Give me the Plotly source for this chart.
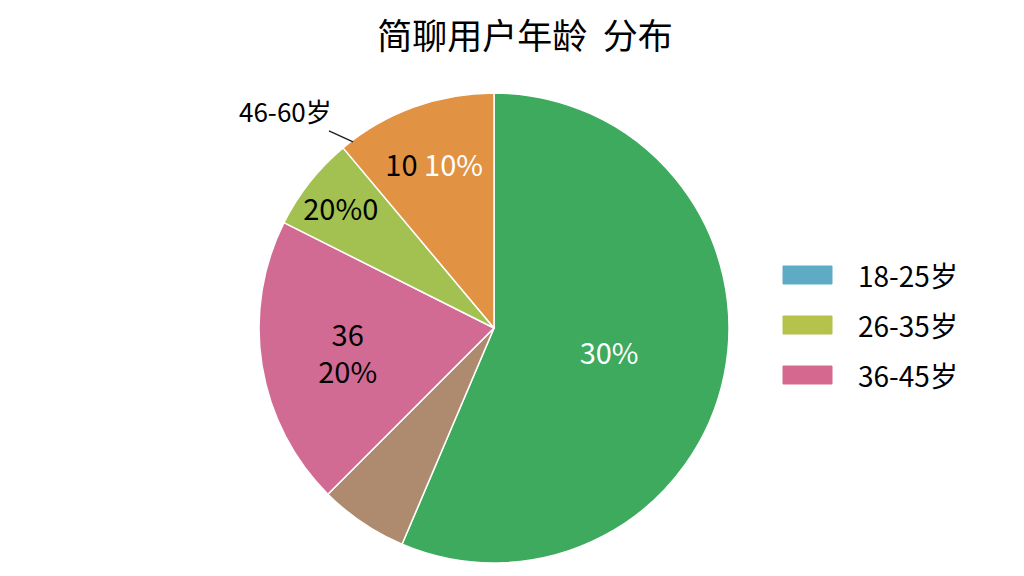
import math
import plotly.graph_objects as go

# ---- data ----
slice_names = ["18-25岁", "其他", "36-45岁", "26-35岁", "46-60岁"]
slice_values = [56.4, 6.1, 19.9, 6.5, 11.1]
slice_texts = ["30%", "", "36<br>20%", "20%0", "<span style='color:black'>10</span> 10%"]
slice_colors = ["#3daa5d", "#ae8b6e", "#d26b94", "#a2c150", "#e19343"]
slice_text_colors = ["white", "black", "black", "black", "white"]

legend_names = ["18-25岁", "26-35岁", "36-45岁"]
legend_colors = ["#5eabc6", "#b5c24b", "#d5688f"]

callout_text = "46-60岁"
callout_index = 4

title_text = "简聊用户年龄  分布"

W, H = 1024, 576
OFF = 8  # page body margin
FONT = "Noto Sans CJK SC, Noto Sans, sans-serif"


def fx(x):
    return (x - OFF) / W


def fy(y):
    return (H - (y - OFF)) / H


# pie geometry (pixels in the screenshot)
cx, cy, R = 494, 328, 235
dom_x = [fx(cx - R), fx(cx + R)]
dom_y = [fy(cy + R), fy(cy - R)]

fig = go.Figure()
fig.add_trace(go.Pie(
    labels=slice_names,
    values=slice_values,
    text=slice_texts,
    textinfo="text",
    texttemplate="%{text}",
    textposition="inside",
    insidetextorientation="horizontal",
    textfont=dict(family=FONT, size=29, color=slice_text_colors),
    marker=dict(colors=slice_colors, line=dict(color="white", width=1.5)),
    sort=False,
    direction="clockwise",
    rotation=0,
    showlegend=False,
    domain=dict(x=dom_x, y=dom_y),
    hoverinfo="label+value",
))

# callout to the boundary that starts the chosen slice (computed from the data)
total = sum(slice_values)
cum = sum(slice_values[:callout_index])
ang = 2 * math.pi * cum / total
bx = cx + R * math.sin(ang) + 10
by = cy - R * math.cos(ang) - 6
fig.add_annotation(
    x=fx(bx), y=fy(by), xref="paper", yref="paper",
    text=callout_text, showarrow=True, arrowhead=0, arrowwidth=1.5,
    arrowcolor="#222", ax=-68, ay=-31,
    font=dict(family=FONT, size=26, color="black"),
)

# legend drawn as rectangles + labels
for i, (name, col) in enumerate(zip(legend_names, legend_colors)):
    yc = 275 + 50 * i
    fig.add_shape(type="rect", xref="paper", yref="paper",
                  x0=fx(783), x1=fx(832),
                  y0=fy(yc + 9), y1=fy(yc - 9),
                  fillcolor=col, line=dict(color=col, width=1))
    fig.add_annotation(x=fx(856), y=fy(yc), xref="paper", yref="paper",
                       text=name, showarrow=False, xanchor="left", yanchor="middle",
                       font=dict(family=FONT, size=28, color="black"))

fig.update_layout(
    width=W, height=H,
    margin=dict(l=0, r=0, t=0, b=0),
    paper_bgcolor="white",
    plot_bgcolor="white",
    title=dict(text=title_text, x=fx(525), xanchor="center", y=fy(37), yanchor="middle",
               font=dict(family=FONT, size=35, color="black")),
    uniformtext=dict(minsize=29, mode="show"),
)

fig.write_html("out.html")
